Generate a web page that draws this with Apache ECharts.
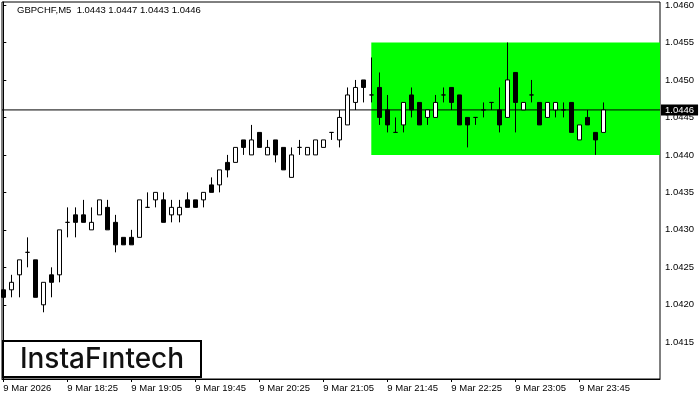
<!DOCTYPE html>
<html>
<head>
<meta charset="utf-8">
<script src="https://cdn.jsdelivr.net/npm/echarts/dist/echarts.min.js"></script>
<style>
html,body{margin:0;padding:0;background:#fff;}
#main{width:700px;height:400px;}
</style>
</head>
<body>
<div id="main"></div>
<script>
var opens = [1.0422,1.0422,1.0424,1.0427,1.0426,1.0420,1.0424,1.0424,1.0431,1.0432,
1.0432,1.0430,1.0432,1.0433,1.0431,1.0429,1.0429,1.0429,1.0433,1.0434,
1.0434,1.0432,1.0432,1.0434,1.0434,1.0434,1.0436,1.0436,1.0439,1.0439,
1.0442,1.0440,1.0443,1.0440,1.0442,1.0441,1.0437,1.0441,1.0440,1.0440,
1.0441,1.0443,1.0442,1.0444,1.0447,1.0450,1.0448,1.0449,1.0446,1.0443,
1.0444,1.0448,1.0447,1.0445,1.0445,1.0448,1.0449,1.0448,1.0445,1.0445,
1.0446,1.0447,1.0446,1.0445,1.0451,1.0446,1.0448,1.0447,1.0445,1.0446,
1.0446,1.0447,1.0442,1.0445,1.0443,1.0443];
var closes = [1.0421,1.0423,1.0426,1.0427,1.0421,1.0423,1.0423,1.0430,1.0431,1.0431,
1.0431,1.0431,1.0434,1.0430,1.0428,1.0428,1.0428,1.0434,1.0433,1.0435,
1.0431,1.0433,1.0433,1.0433,1.0433,1.0435,1.0435,1.0438,1.0438,1.0441,
1.0441,1.0442,1.0441,1.0441,1.0440,1.0438,1.0440,1.0441,1.0441,1.0442,
1.0442,1.0443,1.0445,1.0448,1.0449,1.0449,1.0448,1.0445,1.0444,1.0443,
1.0447,1.0446,1.0444,1.0446,1.0447,1.0448,1.0447,1.0444,1.0444,1.0445,
1.0446,1.0447,1.0444,1.0450,1.0447,1.0447,1.0448,1.0444,1.0447,1.0447,
1.0446,1.0443,1.0444,1.0444,1.0442,1.0446];
var lows = [1.0420,1.0421,1.0421,1.0425,1.0421,1.0419,1.0421,1.0423,1.0429,1.0429,
1.0431,1.0430,1.0432,1.0430,1.0427,1.0428,1.0428,1.0429,1.0433,1.0433,
1.0431,1.0431,1.0431,1.0433,1.0433,1.0433,1.0435,1.0435,1.0437,1.0439,
1.0440,1.0440,1.0441,1.0440,1.0439,1.0438,1.0437,1.0440,1.0440,1.0440,
1.0441,1.0442,1.0441,1.0444,1.0446,1.0447,1.0447,1.0444,1.0443,1.0443,
1.0443,1.0445,1.0444,1.0444,1.0445,1.0447,1.0446,1.0444,1.0441,1.0444,
1.0445,1.0446,1.0443,1.0445,1.0443,1.0446,1.0447,1.0444,1.0445,1.0445,
1.0445,1.0443,1.0442,1.0444,1.0440,1.0443];
var highs = [1.0423,1.0424,1.0426,1.0429,1.0426,1.0423,1.0425,1.0430,1.0433,1.0433,
1.0434,1.0433,1.0434,1.0434,1.0432,1.0429,1.0430,1.0434,1.0435,1.0435,
1.0435,1.0434,1.0434,1.0435,1.0434,1.0435,1.0437,1.0438,1.0440,1.0441,
1.0442,1.0444,1.0443,1.0442,1.0442,1.0441,1.0441,1.0442,1.0441,1.0442,
1.0442,1.0443,1.0446,1.0449,1.0450,1.0450,1.0453,1.0451,1.0448,1.0445,
1.0447,1.0449,1.0447,1.0446,1.0448,1.0449,1.0449,1.0448,1.0445,1.0445,
1.0447,1.0447,1.0449,1.0455,1.0451,1.0447,1.0450,1.0447,1.0447,1.0447,
1.0447,1.0447,1.0444,1.0446,1.0443,1.0447];

var timeTickBars = [0, 8, 16, 24, 32, 40, 48, 56, 64, 72];
var timeTickLabels = ['9 Mar 2026','9 Mar 18:25','9 Mar 19:05','9 Mar 19:45','9 Mar 20:25',
  '9 Mar 21:05','9 Mar 21:45','9 Mar 22:25','9 Mar 23:05','9 Mar 23:45'];
var priceTicks = [1.0415,1.0420,1.0425,1.0430,1.0435,1.0440,1.0445,1.0450,1.0455,1.0460];

var title = 'GBPCHF,M5  1.0443 1.0447 1.0443 1.0446';
var bidPrice = 1.0446;
var patternStartBar = 46;
var patternTop = 1.0455;
var patternBottom = 1.0440;

var X_MIN = -0.1625, X_MAX = 82.0875;

var candleData = opens.map(function (o, i) {
  return [i, o, closes[i], lows[i], highs[i]];
});

var FONT = '"Liberation Sans", Arial, sans-serif';
var chart = echarts.init(document.getElementById('main'), null, {renderer: 'canvas'});
chart.setOption({
  animation: false,
  backgroundColor: '#fff',
  grid: {left: 2, top: 2, right: 40, bottom: 21, show: true, borderColor: '#000', borderWidth: 1, backgroundColor: 'transparent'},
  xAxis: {
    type: 'value',
    min: X_MIN,
    max: X_MAX,
    splitLine: {show: false},
    axisLine: {show: true, onZero: false, lineStyle: {color: '#000', width: 1}},
    axisTick: {show: true, inside: false, length: 3, customValues: timeTickBars, lineStyle: {color: '#000'}},
    axisLabel: {
      show: true,
      customValues: timeTickBars,
      margin: 4,
      align: 'left',
      color: '#000',
      fontFamily: FONT,
      fontSize: 9.5,
      formatter: function (v) {
        var k = timeTickBars.indexOf(Math.round(v));
        return k >= 0 ? timeTickLabels[k] : '';
      }
    }
  },
  yAxis: {
    type: 'value',
    position: 'right',
    min: 1.04101,
    max: 1.04604,
    scale: true,
    splitLine: {show: false},
    axisLine: {show: true, lineStyle: {color: '#000', width: 1}},
    axisTick: {show: true, inside: false, length: 3, customValues: priceTicks, lineStyle: {color: '#000'}},
    axisLabel: {
      show: true,
      customValues: priceTicks,
      margin: 5,
      color: '#000',
      fontFamily: FONT,
      fontSize: 9.5,
      formatter: function (v) { return v.toFixed(4); }
    }
  },
  graphic: [
    {type: 'text', left: 17, top: 5, z: 10, style: {text: title, fill: '#000', font: '9.5px ' + FONT}},
    {type: 'rect', shape: {x: 3, y: 341, width: 198, height: 36}, z: 10,
      style: {fill: '#fff', stroke: '#000', lineWidth: 2}},
    {type: 'text', x: 102, y: 360, z: 11,
      style: {text: 'InstaFıntech', fill: '#111', font: '500 28px Inter, "Noto Sans", sans-serif', textAlign: 'center', textVerticalAlign: 'middle'}}
  ],
  series: [
    {
      type: 'line',
      z: 1,
      data: [[X_MIN, bidPrice], [X_MAX, bidPrice]],
      showSymbol: false,
      symbol: 'none',
      lineStyle: {color: '#000', width: 1},
      silent: true,
      clip: false,
      endLabel: {
        show: true,
        distance: 1,
        formatter: function () { return bidPrice.toFixed(4); },
        color: '#fff',
        backgroundColor: '#000',
        padding: [1, 4, 0, 4],
        fontFamily: FONT,
        fontSize: 9.5
      },
      markArea: {
        silent: true,
        itemStyle: {color: '#00ff00', opacity: 1},
        data: [[{xAxis: patternStartBar, yAxis: patternTop}, {xAxis: X_MAX, yAxis: patternBottom}]]
      }
    },
    {
      type: 'candlestick',
      z: 3,
      barWidth: 5,
      clip: false,
      encode: {x: 0, y: [1, 2, 3, 4]},
      data: candleData,
      itemStyle: {color: '#fff', color0: '#000', borderColor: '#000', borderColor0: '#000', borderWidth: 1}
    }
  ]
});
</script>
</body>
</html>
